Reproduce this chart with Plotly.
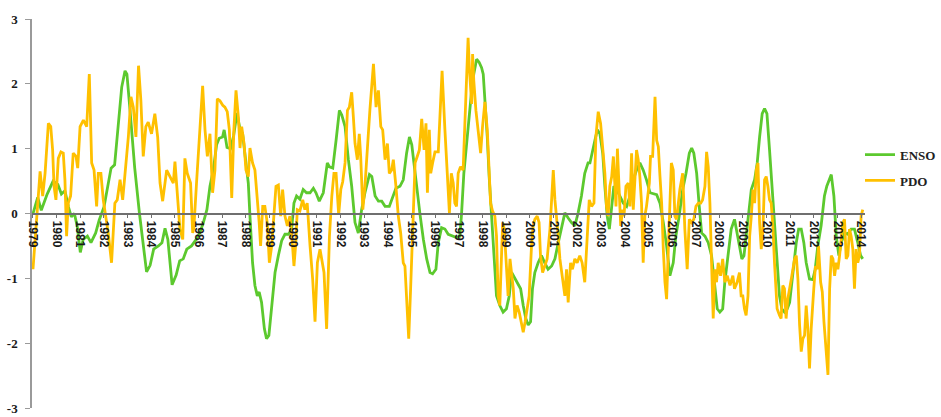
import plotly.graph_objects as go

# ---------------- data ----------------
years = list(range(1979, 2015))
year_labels = [str(y) for y in years]

enso_t = [1979.00, 1979.20, 1979.35, 1979.60, 1979.85, 1980.05, 1980.20, 1980.35, 1980.50, 1980.62,
          1980.75, 1980.87, 1981.00, 1981.12, 1981.30, 1981.45, 1981.65, 1981.80, 1982.00, 1982.30,
          1982.45, 1982.60, 1982.75, 1982.89, 1982.97, 1983.10, 1983.30, 1983.50, 1983.65, 1983.80,
          1983.95, 1984.10, 1984.30, 1984.45, 1984.58, 1984.70, 1984.88, 1985.05, 1985.20, 1985.35,
          1985.50, 1985.70, 1985.90, 1986.05, 1986.20, 1986.35, 1986.48, 1986.62, 1986.76, 1986.87,
          1987.01, 1987.08, 1987.20, 1987.35, 1987.48, 1987.62, 1987.75, 1987.86, 1988.00, 1988.10,
          1988.17, 1988.28, 1988.38, 1988.48, 1988.56, 1988.66, 1988.78, 1988.87, 1988.97, 1989.09,
          1989.23, 1989.37, 1989.51, 1989.65, 1989.79, 1989.93, 1990.03, 1990.14, 1990.28, 1990.42,
          1990.56, 1990.71, 1990.85, 1990.96, 1991.10, 1991.27, 1991.44, 1991.53, 1991.67, 1991.81,
          1991.95, 1992.05, 1992.19, 1992.33, 1992.47, 1992.61, 1992.75, 1992.89, 1993.03, 1993.22,
          1993.32, 1993.46, 1993.60, 1993.74, 1993.88, 1994.06, 1994.20, 1994.34, 1994.51, 1994.65,
          1994.79, 1994.91, 1995.01, 1995.15, 1995.25, 1995.36, 1995.50, 1995.64, 1995.78, 1995.89,
          1996.03, 1996.13, 1996.27, 1996.41, 1996.55, 1996.76, 1996.90, 1997.04, 1997.11, 1997.21,
          1997.32, 1997.44, 1997.54, 1997.63, 1997.75, 1997.86, 1997.96, 1998.03, 1998.10, 1998.20,
          1998.28, 1998.38, 1998.48, 1998.59, 1998.73, 1998.87, 1999.01, 1999.13, 1999.23, 1999.37,
          1999.51, 1999.61, 1999.72, 1999.83, 1999.93, 2000.03, 2000.11, 2000.21, 2000.35, 2000.49,
          2000.63, 2000.77, 2000.92, 2001.06, 2001.20, 2001.34, 2001.48, 2001.62, 2001.76, 2001.90,
          2002.04, 2002.18, 2002.32, 2002.46, 2002.54, 2002.75, 2002.85, 2002.96, 2003.08, 2003.17,
          2003.27, 2003.36, 2003.46, 2003.55, 2003.67, 2003.81, 2003.95, 2004.09, 2004.23, 2004.37,
          2004.51, 2004.65, 2004.79, 2004.93, 2005.08, 2005.36, 2005.50, 2005.64, 2005.78, 2005.92,
          2006.06, 2006.17, 2006.31, 2006.46, 2006.60, 2006.74, 2006.84, 2006.93, 2007.05, 2007.16,
          2007.26, 2007.40, 2007.54, 2007.68, 2007.82, 2007.92, 2008.03, 2008.15, 2008.24, 2008.38,
          2008.51, 2008.65, 2008.76, 2008.86, 2008.96, 2009.05, 2009.14, 2009.24, 2009.36, 2009.50,
          2009.61, 2009.71, 2009.82, 2009.92, 2010.02, 2010.13, 2010.24, 2010.34, 2010.45, 2010.55,
          2010.65, 2010.76, 2010.88, 2010.98, 2011.12, 2011.26, 2011.36, 2011.47, 2011.58, 2011.68,
          2011.82, 2011.96, 2012.06, 2012.17, 2012.31, 2012.45, 2012.55, 2012.64, 2012.74, 2012.85,
          2012.95, 2013.06, 2013.16, 2013.30, 2013.44, 2013.58, 2013.72, 2013.86, 2013.98, 2014.07]
enso_v = [0.00, 0.25, 0.05, 0.30, 0.50, 0.45, 0.30, 0.35, 0.10, -0.05,
          0.00, -0.20, -0.60, -0.40, -0.35, -0.45, -0.30, -0.10, 0.10, 0.70,
          0.75, 1.30, 1.95, 2.20, 2.15, 1.60, 0.70, 0.00, -0.50, -0.90,
          -0.80, -0.55, -0.50, -0.45, -0.23, -0.40, -1.10, -0.95, -0.73, -0.70,
          -0.55, -0.50, -0.40, -0.30, -0.14, 0.06, 0.42, 0.67, 1.06, 1.16,
          1.18, 1.29, 1.02, 1.00, 1.20, 1.55, 1.30, 1.23, 0.78, 0.47,
          -0.04, -0.76, -1.11, -1.27, -1.21, -1.37, -1.78, -1.93, -1.88, -1.47,
          -0.91, -0.65, -0.42, -0.32, -0.32, -0.25, 0.16, 0.27, 0.22, 0.37,
          0.32, 0.32, 0.39, 0.32, 0.19, 0.32, 0.78, 0.72, 0.70, 1.13,
          1.59, 1.52, 1.34, 0.83, 0.42, -0.14, -0.30, 0.06, 0.32, 0.60,
          0.57, 0.27, 0.19, 0.19, 0.11, 0.11, 0.24, 0.39, 0.42, 0.52,
          0.93, 1.18, 1.06, 0.62, 0.27, -0.02, -0.40, -0.70, -0.91, -0.93,
          -0.86, -0.45, -0.22, -0.24, -0.32, -0.35, -0.37, -0.35, -0.02, 0.62,
          1.08, 1.49, 1.90, 2.15, 2.38, 2.33, 2.25, 2.15, 1.80, 1.18,
          0.57, -0.02, -0.76, -1.27, -1.42, -1.52, -1.47, -1.27, -0.91, -1.01,
          -1.11, -1.16, -1.42, -1.62, -1.72, -1.67, -1.16, -0.91, -0.76, -0.65,
          -0.76, -0.86, -0.81, -0.70, -0.45, -0.19, 0.01, -0.07, -0.14, -0.19,
          0.01, 0.27, 0.62, 0.78, 0.78, 1.13, 1.29, 1.23, 0.93, 0.42,
          -0.04, -0.24, 0.06, 0.42, 0.37, 0.27, 0.16, 0.11, 0.27, 0.52,
          0.67, 0.78, 0.67, 0.52, 0.32, 0.29, 0.16, -0.14, -0.50, -0.96,
          -0.76, -0.35, -0.04, 0.37, 0.62, 0.93, 1.01, 0.93, 0.62, 0.11,
          -0.30, -0.35, -0.45, -0.65, -1.16, -1.47, -1.52, -1.47, -1.06, -0.65,
          -0.24, -0.09, -0.30, -0.55, -0.70, -0.65, -0.35, 0.06, 0.37, 0.52,
          0.78, 1.18, 1.54, 1.62, 1.54, 0.98, 0.42, -0.04, -0.70, -1.27,
          -1.47, -1.52, -1.47, -1.37, -0.91, -0.45, -0.24, -0.24, -0.45, -0.76,
          -1.01, -1.02, -0.86, -0.50, -0.19, 0.27, 0.42, 0.52, 0.60, 0.27,
          -0.35, -0.65, -0.45, -0.30, -0.32, -0.24, -0.24, -0.45, -0.65, -0.70]

pdo_t = [1979.00, 1979.15, 1979.30, 1979.41, 1979.51, 1979.65, 1979.75, 1979.83, 1979.89, 1979.97,
         1980.07, 1980.18, 1980.28, 1980.35, 1980.42, 1980.49, 1980.59, 1980.70, 1980.82, 1980.89,
         1980.99, 1981.13, 1981.27, 1981.38, 1981.48, 1981.58, 1981.69, 1981.76, 1981.87, 1981.97,
         1982.08, 1982.18, 1982.32, 1982.46, 1982.56, 1982.68, 1982.79, 1982.89, 1983.03, 1983.14,
         1983.24, 1983.35, 1983.46, 1983.56, 1983.66, 1983.77, 1983.87, 1984.01, 1984.15, 1984.27,
         1984.37, 1984.48, 1984.65, 1984.79, 1984.93, 1985.00, 1985.10, 1985.21, 1985.33, 1985.42,
         1985.52, 1985.66, 1985.75, 1985.80, 1985.92, 1986.06, 1986.17, 1986.27, 1986.37, 1986.48,
         1986.59, 1986.69, 1986.79, 1986.90, 1987.02, 1987.11, 1987.21, 1987.30, 1987.40, 1987.49,
         1987.58, 1987.68, 1987.75, 1987.82, 1987.92, 1988.00, 1988.10, 1988.17, 1988.28, 1988.38,
         1988.48, 1988.56, 1988.62, 1988.71, 1988.80, 1988.90, 1988.99, 1989.09, 1989.18, 1989.27,
         1989.37, 1989.47, 1989.55, 1989.65, 1989.75, 1989.86, 1989.97, 1990.03, 1990.11, 1990.17,
         1990.28, 1990.40, 1990.49, 1990.59, 1990.71, 1990.82, 1990.92, 1991.02, 1991.13, 1991.25,
         1991.30, 1991.41, 1991.53, 1991.63, 1991.72, 1991.81, 1991.92, 1992.01, 1992.09, 1992.19,
         1992.29, 1992.37, 1992.47, 1992.54, 1992.61, 1992.71, 1992.79, 1992.85, 1992.94, 1993.03,
         1993.13, 1993.24, 1993.39, 1993.50, 1993.60, 1993.70, 1993.78, 1993.88, 1993.98, 1994.06,
         1994.16, 1994.23, 1994.34, 1994.44, 1994.54, 1994.65, 1994.72, 1994.79, 1994.88, 1994.96,
         1995.05, 1995.15, 1995.24, 1995.33, 1995.43, 1995.53, 1995.61, 1995.67, 1995.75, 1995.81,
         1995.89, 1995.99, 1996.13, 1996.29, 1996.41, 1996.51, 1996.60, 1996.68, 1996.76, 1996.83,
         1996.90, 1996.97, 1997.07, 1997.18, 1997.39, 1997.45, 1997.54, 1997.58, 1997.63, 1997.72,
         1997.82, 1997.92, 1998.00, 1998.10, 1998.20, 1998.28, 1998.34, 1998.42, 1998.52, 1998.59,
         1998.66, 1998.73, 1998.85, 1998.92, 1998.99, 1999.08, 1999.16, 1999.23, 1999.30, 1999.37,
         1999.46, 1999.55, 1999.65, 1999.72, 1999.80, 1999.89, 1999.97, 2000.07, 2000.14, 2000.21,
         2000.31, 2000.39, 2000.45, 2000.54, 2000.63, 2000.73, 2000.85, 2000.92, 2000.99, 2001.06,
         2001.13, 2001.20, 2001.27, 2001.38, 2001.48, 2001.55, 2001.62, 2001.72, 2001.80, 2001.90,
         2002.00, 2002.11, 2002.21, 2002.32, 2002.42, 2002.51, 2002.61, 2002.71, 2002.79, 2002.89,
         2002.99, 2003.08, 2003.17, 2003.24, 2003.31, 2003.38, 2003.46, 2003.53, 2003.60, 2003.64,
         2003.70, 2003.78, 2003.84, 2003.92, 2003.98, 2004.06, 2004.16, 2004.23, 2004.30, 2004.37,
         2004.44, 2004.51, 2004.58, 2004.65, 2004.72, 2004.79, 2004.86, 2004.93, 2005.05, 2005.10,
         2005.19, 2005.29, 2005.36, 2005.43, 2005.50, 2005.57, 2005.64, 2005.71, 2005.78, 2005.85,
         2005.92, 2005.98, 2006.06, 2006.13, 2006.20, 2006.27, 2006.34, 2006.46, 2006.55, 2006.65,
         2006.74, 2006.84, 2006.93, 2007.02, 2007.12, 2007.22, 2007.30, 2007.40, 2007.47, 2007.54,
         2007.61, 2007.68, 2007.75, 2007.82, 2007.89, 2007.96, 2008.06, 2008.15, 2008.24, 2008.34,
         2008.46, 2008.58, 2008.65, 2008.76, 2008.86, 2008.93, 2009.00, 2009.07, 2009.14, 2009.22,
         2009.29, 2009.36, 2009.43, 2009.50, 2009.57, 2009.64, 2009.71, 2009.78, 2009.85, 2009.92,
         2009.99, 2010.06, 2010.13, 2010.20, 2010.27, 2010.34, 2010.45, 2010.55, 2010.62, 2010.69,
         2010.76, 2010.83, 2010.90, 2011.05, 2011.19, 2011.26, 2011.33, 2011.40, 2011.47, 2011.54,
         2011.61, 2011.68, 2011.75, 2011.82, 2011.89, 2012.00, 2012.07, 2012.14, 2012.20, 2012.29,
         2012.36, 2012.43, 2012.52, 2012.60, 2012.67, 2012.74, 2012.81, 2012.88, 2012.95, 2013.02,
         2013.09, 2013.16, 2013.23, 2013.30, 2013.37, 2013.44, 2013.51, 2013.58, 2013.65, 2013.72,
         2013.79, 2013.86, 2013.93, 2014.00, 2014.07]
pdo_v = [-0.86, -0.04, 0.65, 0.27, 0.62, 1.39, 1.34, 0.98, 0.42, 0.21,
         0.85, 0.95, 0.93, 0.52, -0.35, 0.16, 0.27, 0.93, 0.88, 0.70,
         1.34, 1.44, 1.34, 2.15, 0.78, 0.67, 0.11, 0.62, 0.62, 0.21,
         -0.04, -0.30, -0.76, 0.16, 0.21, 0.52, 0.21, 0.62, 1.18, 1.80,
         1.64, 1.18, 2.28, 1.74, 0.88, 1.34, 1.41, 1.23, 1.54, 1.18,
         0.47, 0.19, 0.67, 0.57, 0.47, 0.80, 0.27, -0.24, -0.40, 0.85,
         0.62, 0.47, -0.30, -0.22, 0.52, 1.29, 1.97, 1.29, 0.88, 1.23,
         0.32, 0.67, 1.77, 1.74, 1.67, 1.64, 1.57, 1.29, 0.24, 1.29,
         1.90, 1.49, 1.01, 1.34, 1.08, 0.67, 0.57, 1.01, 0.78, 0.67,
         0.27, -0.14, -0.50, 0.11, 0.11, -0.14, -0.76, -0.50, -0.04, 0.42,
         0.44, -0.04, 0.37, -0.04, -0.19, -0.04, -0.50, -0.81, -0.45, 0.06,
         0.04, 0.21, 0.06, 0.16, -0.50, -1.01, -1.67, -0.76, -0.55, -0.86,
         -0.91, -1.78, -0.35, 0.27, 0.62, 0.62, -0.02, 0.37, 0.49, 0.78,
         1.59, 1.64, 1.87, 1.49, 1.08, 0.83, 1.23, 0.88, 0.06, 0.42,
         1.00, 1.60, 2.31, 1.64, 1.90, 1.34, 1.29, 0.83, 1.08, 0.62,
         0.67, 0.83, 0.42, -0.04, -0.30, -0.76, -0.81, -1.37, -1.93, -1.16,
         -0.09, 0.78, 0.88, 0.98, 1.46, 0.98, 1.39, 0.32, 1.29, 0.62,
         0.78, 0.95, 0.95, 2.20, 1.29, 0.57, 0.01, 0.62, 0.47, 0.16,
         0.11, 0.62, 0.72, 0.67, 2.71, 2.20, 1.69, 2.46, 2.05, 1.59,
         1.29, 0.93, 1.34, 1.72, 1.29, 0.67, 0.16, 0.04, -0.04, -0.35,
         -1.27, -1.42, -0.14, -0.24, -0.76, -1.27, -0.70, -0.96, -1.16, -1.62,
         -1.42, -1.52, -1.72, -1.83, -1.67, -1.47, -1.27, -0.50, -0.19, -0.09,
         -0.04, -0.14, -0.65, -0.91, -0.81, -0.70, -0.24, 0.27, 0.67, 0.21,
         -0.04, -0.35, -0.70, -0.96, -1.27, -0.86, -1.37, -0.76, -0.86, -0.70,
         -0.76, -0.65, -0.76, -1.06, -0.35, 0.21, 0.11, 0.16, 1.18, 1.57,
         1.39, 1.03, 0.62, 0.11, -0.04, 0.42, 0.57, 0.88, 0.37, 0.11,
         1.00, 0.27, -0.19, 0.06, -0.04, 0.42, 0.47, 0.11, 0.93, 0.06,
         0.57, 0.98, 0.83, 0.57, 0.16, -0.76, -0.04, 0.11, 0.47, 0.88,
         0.88, 1.80, 1.13, 1.03, 0.57, 0.16, -0.55, -1.06, -1.32, -0.50,
         0.32, 0.78, 0.67, -0.04, -0.09, 0.16, 0.37, 0.62, -0.24, -0.86,
         -0.09, -0.14, -0.09, 0.11, 0.16, 0.16, 0.21, 0.42, 0.95, 0.72,
         0.16, -0.76, -1.62, -0.86, -1.06, -0.76, -0.96, -0.70, -1.06, -0.96,
         -1.11, -0.96, -1.16, -1.06, -0.91, -1.27, -1.27, -1.47, -1.57, -1.27,
         -0.35, -0.04, 0.37, 0.16, 0.67, 0.78, -0.14, -0.55, -0.24, 0.52,
         0.57, 0.42, 0.21, 0.16, -0.19, -0.76, -1.47, -1.57, -1.62, -1.11,
         -1.16, -1.62, -1.32, -1.01, -0.70, -0.65, -1.01, -1.72, -2.13, -1.93,
         -1.88, -1.42, -1.78, -2.39, -1.78, -1.16, -0.81, -0.86, -0.50, -1.06,
         -1.21, -1.67, -2.08, -2.49, -1.16, -0.65, -0.70, -0.96, -0.76, -0.86,
         -0.65, -0.40, -0.14, -0.09, -0.70, -0.65, -0.24, -0.35, -0.55, -1.16,
         -0.55, -0.76, -0.65, -0.04, 0.06]

y_ticks = [3, 2, 1, 0, -1, -2, -3]
y_labels = ["3", "2", "1", "0", "-1", "-2", "-3"]

# ---------------- figure ----------------
GREEN = "#5CC92E"
ORANGE = "#FFC000"

fig = go.Figure()
fig.add_trace(go.Scatter(x=enso_t, y=enso_v, mode="lines", name="ENSO",
                         legendgroup="enso",
                         line=dict(color=GREEN, width=2.8)))
fig.add_trace(go.Scatter(x=pdo_t, y=pdo_v, mode="lines", name="PDO",
                         legendgroup="pdo",
                         line=dict(color=ORANGE, width=2.8)))

fig.update_layout(
    width=941, height=417,
    margin=dict(l=32, r=76, t=19, b=9, autoexpand=False),
    paper_bgcolor="white", plot_bgcolor="white",
    showlegend=True,
    legend=dict(x=0.994, y=0.69, xanchor="left", yanchor="top",
                font=dict(family="Liberation Serif", size=13, color="#222222", weight="bold"),
                tracegroupgap=6, bgcolor="rgba(0,0,0,0)",
                traceorder="grouped"),
)

fig.update_xaxes(
    range=[1978.958, 2014.165],
    tickmode="array", tickvals=years, ticktext=year_labels,
    tickangle=90,
    tickfont=dict(family="Liberation Sans", size=12, color="#1a1a1a", weight="bold"),
    showline=True, linecolor="#6f6f6f", linewidth=1.5,
    ticks="outside", ticklen=4, tickcolor="#6f6f6f",
    showgrid=False, zeroline=False,
    anchor="free", position=0.5, automargin=False,
)
fig.update_yaxes(
    range=[-3, 3],
    tickmode="array", tickvals=y_ticks, ticktext=y_labels,
    tickfont=dict(family="Liberation Serif", size=13, color="#1a1a1a", weight="bold"),
    showline=True, linecolor="#9a9a9a", linewidth=1.5,
    ticks="outside", ticklen=5, tickcolor="#9a9a9a",
    ticklabelstandoff=5, ticklabeloverflow="allow",
    showgrid=False, zeroline=False, automargin=False,
)

# remove the default 8 px page margin so the figure sits at the window's corner
fig.write_html("out.html",
               config={"displayModeBar": False},
               post_script="document.body.style.margin='0';document.body.style.overflow='hidden';")
